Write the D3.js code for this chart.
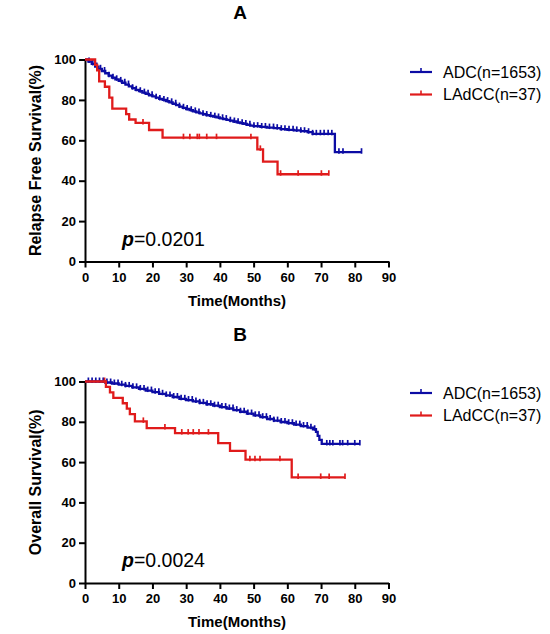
<!DOCTYPE html>
<html><head><meta charset="utf-8">
<script src="https://cdn.jsdelivr.net/npm/d3@7"></script>
<style>body{margin:0;background:#fff}svg{display:block}</style>
</head><body>
<script>
// ---------- DATA ----------
const xTicks = [0,10,20,30,40,50,60,70,80,90];
const yTicks = [0,20,40,60,80,100];
const seriesNames = ["ADC(n=1653)", "LAdCC(n=37)"];
const panelTitles = ["A", "B"];
const yTitles = ["Relapse Free Survival(%)", "Overall Survival(%)"];
const pValues = ["0.0201", "0.0024"];

// Panel A – ADC (time, survival %)
const rfsAdcSteps = [[0,100],[1,99],[2,97.8],[3,96.5],[4,95.4],[5,94.3],[6,93.2],[7,92],[8,91],[9,90.2],[10,89.4],[11,88.5],[12,87.6],[13,86.7],[14,85.8],[15,85],[16,84.3],[17,83.6],[18,83],[19,82.3],[20,81.7],[21,81.1],[22,80.5],[23,80],[24,79.4],[25,78.8],[26,78.1],[27,77.4],[28,76.7],[29,76.1],[30,75.5],[31,74.9],[32,74.3],[33,73.8],[34,73.3],[35,72.9],[36,72.5],[37,72.1],[38,71.7],[39,71.3],[40,70.9],[41,70.5],[42,70.1],[43,69.7],[44,69.3],[45,68.9],[46,68.5],[47,68.1],[48,67.7],[49,67.3],[50,67],[52,66.6],[54,66.3],[56,66],[58,65.5],[60,65.2],[62,64.9],[64,64.5],[66,64],[67.5,63.2],[74.1,54.1]];
const rfsAdcEnd = 82;
const rfsAdcCensor = [1.2,2.3,3.5,4.6,5.8,7.1,8.3,9.4,10.6,11.8,12.9,14.1,15.2,16.4,17.6,18.7,19.9,21.1,22.2,23.4,24.5,25.7,26.9,28,29.2,30.3,31.5,32.7,33.8,35,36.1,37.3,38.5,39.6,40.8,41.9,43.1,44.3,45.4,46.6,47.7,48.9,50.1,51.2,52.4,53.5,54.7,55.9,57,58.2,59.3,60.5,61.7,62.8,64,65.1,66.3,67.5,68.6,69.8,70.9,72.1,73.2,75.3,76.5,82];
// Panel A – LAdCC
const rfsLadSteps = [[0,100],[3.0,97.3],[3.6,94.6],[4.2,89.2],[5.9,86.5],[7.2,81.1],[8.1,75.7],[12.2,73],[13.1,70.3],[15,68.6],[19,65.1],[23,61.3],[51.1,55.5],[52.8,49.4],[57.1,43.2]];
const rfsLadEnd = 72.3;
const rfsLadCensor = [17.2,29.2,31.1,33.3,33.9,36.1,39,49.2,52.0,58,63.2,70.1,72.3];

// Panel B – ADC
const osAdcSteps = [[0,100],[4,100],[6,99.5],[8,99],[10,98.4],[12,97.8],[14,97.1],[16,96.3],[18,95.5],[20,94.7],[22,93.9],[24,93.1],[26,92.3],[28,91.4],[30,90.8],[32,90.1],[34,89.4],[36,88.7],[38,88],[40,87.3],[42,86.6],[44,85.8],[46,85],[48,84.1],[50,83.2],[52,82.3],[54,81.4],[56,80.6],[58,79.9],[60,79.3],[62,78.6],[64,77.9],[66,77.1],[67.6,76.3],[68.5,75],[69,73],[69.5,71],[70.2,69]];
const osAdcEnd = 81.5;
const osAdcCensor = [1,2.1,3.2,4.3,5.4,6.5,7.6,8.7,9.8,10.9,12,13.1,14.2,15.3,16.4,17.5,18.6,19.7,20.8,21.9,23,24.1,25.2,26.3,27.4,28.5,29.6,30.7,31.8,32.9,34,35.1,36.2,37.3,38.4,39.5,40.6,41.7,42.8,43.9,45,46.1,47.2,48.3,49.4,50.5,51.6,52.7,53.8,54.9,56,57.1,58.2,59.3,60.4,61.5,62.6,63.7,64.8,65.9,67,68.1,71.7,72.6,73.5,75.6,76.4,77.9,80,81.5];
// Panel B – LAdCC
const osLadSteps = [[0,100],[6.2,97.3],[7.4,94.6],[8.4,91.9],[11.2,89.2],[12.4,86.5],[13.3,83.8],[14.8,80.2],[18.3,76.9],[26.7,74.4],[39.5,69.4],[43,65.6],[47.6,61.2],[61.3,52.4]];
const osLadEnd = 77.1;
const osLadCensor = [5.8,17.3,23.7,28.7,30.6,32.1,33.8,36.6,48.9,50.4,51.9,57.8,63.2,69.9,72.4,77.1];

// ---------- STYLE ----------
const BLUE = "#0c0ca4", RED = "#e01b1b";
const FONT = "'Liberation Sans', Arial, sans-serif";

const svg = d3.select("body").append("svg").attr("width",550).attr("height",634);

function stepValue(steps, t){
  let v = steps[0][1];
  for (const s of steps){ if (s[0] <= t) v = s[1]; else break; }
  return v;
}

function drawPanel(p){
  const x = d3.scaleLinear().domain([0,90]).range([85,388.5]);
  const y = d3.scaleLinear().domain([0,100]).range([p.y0, p.y100]);
  const g = svg.append("g");

  g.append("text").attr("x",240).attr("y",p.y100-41).attr("text-anchor","middle")
    .attr("font-family",FONT).attr("font-weight","bold").attr("font-size",19).text(p.title);

  const xa = g.append("g").attr("transform",`translate(0,${p.y0})`)
    .call(d3.axisBottom(x).tickValues(xTicks).tickSize(6).tickSizeOuter(0).tickPadding(5));
  const ya = g.append("g").attr("transform",`translate(85,0)`)
    .call(d3.axisLeft(y).tickValues(yTicks).tickSize(6).tickSizeOuter(0).tickPadding(3));
  [xa,ya].forEach(a=>{
    a.select(".domain").attr("stroke","#000").attr("stroke-width",2);
    a.selectAll(".tick line").attr("stroke","#000").attr("stroke-width",2);
    a.selectAll(".tick text").attr("font-family",FONT).attr("font-weight","bold").attr("font-size",13).attr("fill","#000");
  });

  g.append("text").attr("x",237).attr("y",p.y0+44).attr("text-anchor","middle")
    .attr("font-family",FONT).attr("font-weight","bold").attr("font-size",15).text("Time(Months)");
  g.append("text").attr("transform",`translate(41,${(p.y0+p.y100)/2}) rotate(-90)`).attr("text-anchor","middle")
    .attr("font-family",FONT).attr("font-weight","bold").attr("font-size",16).text(p.ytitle);

  const line = d3.line().x(d=>x(d[0])).y(d=>y(d[1])).curve(d3.curveStepAfter);
  p.series.forEach(s=>{
    const pts = s.steps.concat([[s.end, s.steps[s.steps.length-1][1]]]);
    g.append("path").attr("d",line(pts)).attr("fill","none").attr("stroke",s.color).attr("stroke-width",2.3);
    g.selectAll(null).data(s.censor).enter().append("line")
      .attr("x1",d=>x(d)).attr("x2",d=>x(d))
      .attr("y1",d=>y(stepValue(s.steps,d))+1.5).attr("y2",d=>y(stepValue(s.steps,d))-4)
      .attr("stroke",s.color).attr("stroke-width",1.7);
  });

  const pt = g.append("text").attr("x",122).attr("y",p.y0-16).attr("font-family",FONT).attr("font-size",19.5);
  pt.append("tspan").attr("font-style","italic").attr("font-weight","bold").text("p");
  pt.append("tspan").text("="+p.pval);

  p.series.forEach((s,i)=>{
    const ly = p.legY + i*22.5;
    g.append("line").attr("x1",410).attr("x2",432).attr("y1",ly).attr("y2",ly).attr("stroke",s.color).attr("stroke-width",2.2);
    g.append("line").attr("x1",421).attr("x2",421).attr("y1",ly).attr("y2",ly-4).attr("stroke",s.color).attr("stroke-width",1.6);
    g.append("text").attr("x",443).attr("y",ly+5.5).attr("font-family",FONT).attr("font-size",16).text(seriesNames[i]);
  });
}

drawPanel({title:panelTitles[0], ytitle:yTitles[0], pval:pValues[0], y0:261.5, y100:59.5, legY:72,
  series:[{steps:rfsAdcSteps,end:rfsAdcEnd,censor:rfsAdcCensor,color:BLUE},
          {steps:rfsLadSteps,end:rfsLadEnd,censor:rfsLadCensor,color:RED}]});
drawPanel({title:panelTitles[1], ytitle:yTitles[1], pval:pValues[1], y0:583, y100:381.5, legY:393,
  series:[{steps:osAdcSteps,end:osAdcEnd,censor:osAdcCensor,color:BLUE},
          {steps:osLadSteps,end:osLadEnd,censor:osLadCensor,color:RED}]});
</script>
</body></html>
